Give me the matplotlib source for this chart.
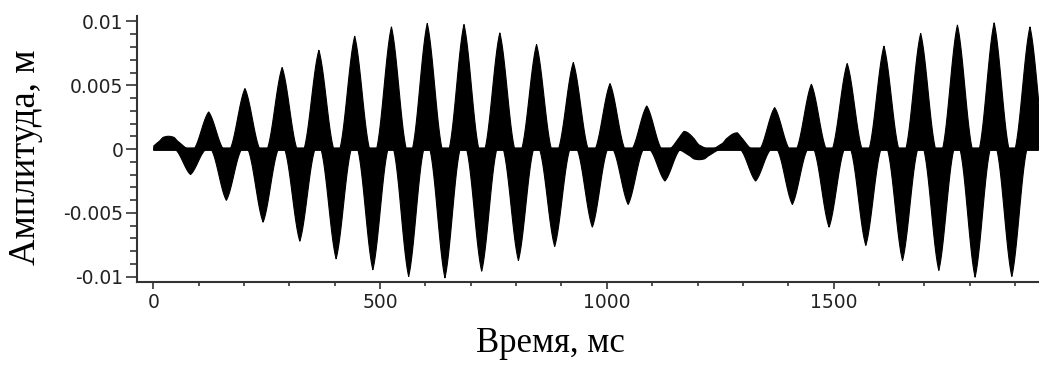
import numpy as np
import matplotlib
matplotlib.use("Agg")
import matplotlib.pyplot as plt
from matplotlib.ticker import FixedLocator, MultipleLocator

# ---- data (lobe peak times in ms, peak amplitudes in m) ----
pos_times = [20, 45, 121, 201, 283, 364, 443, 524, 603, 684, 763, 844, 925,
             1006, 1087, 1169, 1192, 1262, 1287, 1369, 1450, 1529, 1610, 1691,
             1772, 1853, 1932]
pos_amps = [0.0008, 0.0008, 0.00295, 0.00478, 0.00643, 0.00778, 0.00888,
            0.00961, 0.00988, 0.0098, 0.00914, 0.00823, 0.00682, 0.00517,
            0.00342, 0.0013, 0.0005, 0.0006, 0.0012, 0.00329, 0.00512,
            0.00674, 0.0081, 0.0091, 0.00975, 0.00993, 0.00961]
neg_times = [81, 160, 241, 322, 402, 483, 562, 642, 723, 804, 884, 967,
             1046, 1127, 1190, 1215, 1327, 1408, 1489, 1570, 1651, 1731,
             1811, 1892]
neg_amps = [-0.00195, -0.00397, -0.00568, -0.00717, -0.00855, -0.00941,
            -0.00993, -0.01004, -0.00952, -0.00868, -0.00758, -0.00607,
            -0.00429, -0.00246, -0.0006, -0.0006, -0.00246, -0.00429,
            -0.00607, -0.0075, -0.00868, -0.00946, -0.00999, -0.00993]

x_major = [0, 500, 1000, 1500]
x_labels = ["0", "500", "1000", "1500"]
y_major = [-0.01, -0.005, 0, 0.005, 0.01]
y_labels = ["-0.01", "-0.005", "0", "0.005", "0.01"]
x_title = "Время, мс"
y_title = "Амплитуда, м"

t_end = 1953
t = np.arange(0, t_end, 0.5)
HALF_WIDTH = 33.0


def lobe_shape(d):
    tri = 1 - d / HALF_WIDTH
    cos2 = np.cos(np.pi * d / (2 * HALF_WIDTH)) ** 2
    return 0.5 * (tri + cos2)


def lobes(times, amps):
    y = np.zeros_like(t)
    for c, a in zip(times, amps):
        d = np.abs(t - c)
        m = d < HALF_WIDTH
        y[m] += a * lobe_shape(d[m])
    return y


upper = lobes(pos_times, pos_amps)
lower = lobes(neg_times, neg_amps)

fig = plt.figure(figsize=(10.39, 3.65), dpi=100)
ax = fig.add_axes([137.3 / 1039, (365 - 281.5) / 365, (1039 - 137.3) / 1039,
                   (281.5 - 16) / 365])

ax.fill_between(t, 0, upper, color="black", lw=0.8, edgecolor="black")
ax.fill_between(t, 0, lower, color="black", lw=0.8, edgecolor="black")
ax.plot(t, np.zeros_like(t), color="black", lw=2.5, solid_capstyle="butt")

ax.set_xlim(-35.3, t_end)
ax.set_ylim(-0.01037, 0.01043)

for s in ["top", "right"]:
    ax.spines[s].set_visible(False)
for s in ["left", "bottom"]:
    ax.spines[s].set_color("#333333")
    ax.spines[s].set_linewidth(1.5)

ax.xaxis.set_major_locator(FixedLocator(x_major))
ax.set_xticklabels(x_labels)
ax.xaxis.set_minor_locator(MultipleLocator(100))
ax.yaxis.set_major_locator(FixedLocator(y_major))
ax.set_yticklabels(y_labels)
ax.yaxis.set_minor_locator(MultipleLocator(0.001))

ax.tick_params(axis="both", which="major", direction="out", color="#333333",
               labelcolor="#222222", labelsize=13.5, width=1.2)
ax.tick_params(axis="x", which="major", length=5, pad=3)
ax.tick_params(axis="y", which="major", length=8, pad=2)
ax.tick_params(axis="x", which="minor", length=3, width=1.2, color="#333333")
ax.tick_params(axis="y", which="minor", length=5, width=1.2, color="#333333")
for lab in ax.get_xticklabels() + ax.get_yticklabels():
    lab.set_family("DejaVu Sans")

fig.text(550 / 1039, 1 - 343 / 365, x_title, family="Liberation Serif",
         fontsize=25, ha="center", va="center")
fig.text(26 / 1039, 1 - 157 / 365, y_title, family="Liberation Serif",
         fontsize=26.5, ha="center", va="center", rotation=90)

fig.savefig("out.png", dpi=100)
